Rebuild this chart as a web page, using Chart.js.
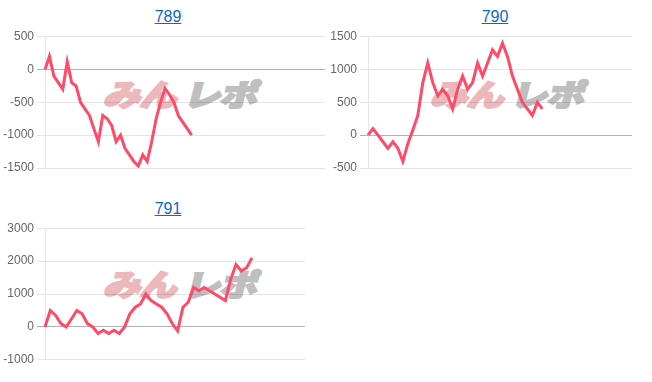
<!DOCTYPE html>
<html>
<head>
<meta charset="utf-8">
<script src="https://cdn.jsdelivr.net/npm/chart.js@4"></script>
<style>
  html, body { margin: 0; padding: 0; background: #fff; }
  body { width: 652px; height: 382px; position: relative; overflow: hidden; font-family: "Liberation Sans", Arial, sans-serif; }
  .title { position: absolute; width: 100px; text-align: center; font-size: 16px; line-height: 20px; }
  .title a { color: #0b67c9; text-decoration: underline; }
  .logo { position: absolute; white-space: nowrap; font-family: "Noto Sans CJK JP", sans-serif; font-weight: 900; font-size: 30px; line-height: 30px; transform-origin: 0 0; transform: skewX(-14deg) scaleX(1.25); z-index: 0; }
  .logo .a { color: #ecb8bb; -webkit-text-stroke: 2px #ecb8bb; letter-spacing: -1px; }
  .logo .b { color: #bfbfbf; -webkit-text-stroke: 2px #bfbfbf; margin-left: 6px; letter-spacing: -1px; }
  canvas { position: absolute; z-index: 1; }
</style>
</head>
<body>
<div class="title" style="left:118px; top:7px;"><a href="#">789</a></div>
<div class="title" style="left:445px; top:7px;"><a href="#">790</a></div>
<div class="title" style="left:118px; top:199px;"><a href="#">791</a></div>

<div class="logo" style="left:110px; top:78px;"><span class="a">みん</span><span class="b">レポ</span></div>
<div class="logo" style="left:437px; top:78px;"><span class="a">みん</span><span class="b">レポ</span></div>
<div class="logo" style="left:110px; top:268px;"><span class="a">みん</span><span class="b">レポ</span></div>

<canvas id="c789" width="327" height="180" style="left:0px; top:0px;"></canvas>
<canvas id="c790" width="308" height="180" style="left:326px; top:0px;"></canvas>
<canvas id="c791" width="307" height="180" style="left:0px; top:190px;"></canvas>

<script>
// ---- data ----
const slotCount789 = 64;
const slotCount790 = 54;
const slotCount791 = 50;

const values789 = [0, 200, -100, -200, -300, 120, -200, -250, -500, -600, -700, -900, -1100, -700, -750, -850, -1100, -1000, -1200, -1300, -1400, -1470, -1300, -1400, -1100, -750, -500, -290, -380, -500, -700, -800, -900, -1000];
const values790 = [0, 100, 0, -100, -200, -100, -200, -400, -130, 80, 300, 800, 1100, 800, 600, 700, 600, 400, 700, 900, 700, 800, 1100, 900, 1100, 1300, 1200, 1400, 1200, 900, 700, 500, 400, 300, 500, 400];
const values791 = [0, 500, 350, 100, 0, 250, 500, 400, 100, 0, -200, -100, -200, -100, -200, 0, 400, 600, 700, 1000, 800, 700, 600, 400, 100, -120, 600, 750, 1200, 1100, 1200, 1100, 1000, 900, 800, 1450, 1900, 1700, 1800, 2100];

const yTicks789 = [-1500, -1000, -500, 0, 500];
const yTicks790 = [-500, 0, 500, 1000, 1500];
const yTicks791 = [-1000, 0, 1000, 2000, 3000];

function makeLabels(n) { const a = []; for (let i = 1; i <= n; i++) a.push(String(i)); return a; }

function makeChart(id, labels, values, yTicks, axisWidth, pad) {
  const step = yTicks[1] - yTicks[0];
  return new Chart(document.getElementById(id), {
    type: 'line',
    data: {
      labels: labels,
      datasets: [{
        data: values,
        borderColor: 'rgb(255, 74, 104)',
        backgroundColor: 'rgb(255, 74, 104)',
        borderWidth: 3,
        pointRadius: 0,
        pointHoverRadius: 0,
        tension: 0,
        fill: false
      }]
    },
    options: {
      responsive: false,
      animation: false,
      devicePixelRatio: 1,
      layout: { padding: pad },
      plugins: { legend: { display: false }, title: { display: false }, tooltip: { enabled: false } },
      scales: {
        x: { display: false },
        y: {
          min: yTicks[0],
          max: yTicks[yTicks.length - 1],
          afterFit: (s) => { s.width = axisWidth; },
          ticks: {
            stepSize: step,
            color: '#666',
            font: { family: '"Liberation Sans", Arial, sans-serif', size: 12 },
            padding: 3,
            callback: (v) => String(v)
          },
          grid: {
            color: (ctx) => (ctx.tick && ctx.tick.value === 0) ? 'rgba(0,0,0,0.3)' : 'rgba(0,0,0,0.1)',
            tickLength: 8
          },
          border: { color: 'rgba(0,0,0,0.1)' }
        }
      }
    }
  });
}

makeChart('c789', makeLabels(slotCount789), values789, yTicks789, 45, { top: 36.7, bottom: 12, right: 2, left: 0 });
makeChart('c790', makeLabels(slotCount790), values790, yTicks790, 42, { top: 36.7, bottom: 12, right: 2, left: 0 });
makeChart('c791', makeLabels(slotCount791), values791, yTicks791, 45, { top: 38.3, bottom: 10, right: 2, left: 0 });
</script>
</body>
</html>
